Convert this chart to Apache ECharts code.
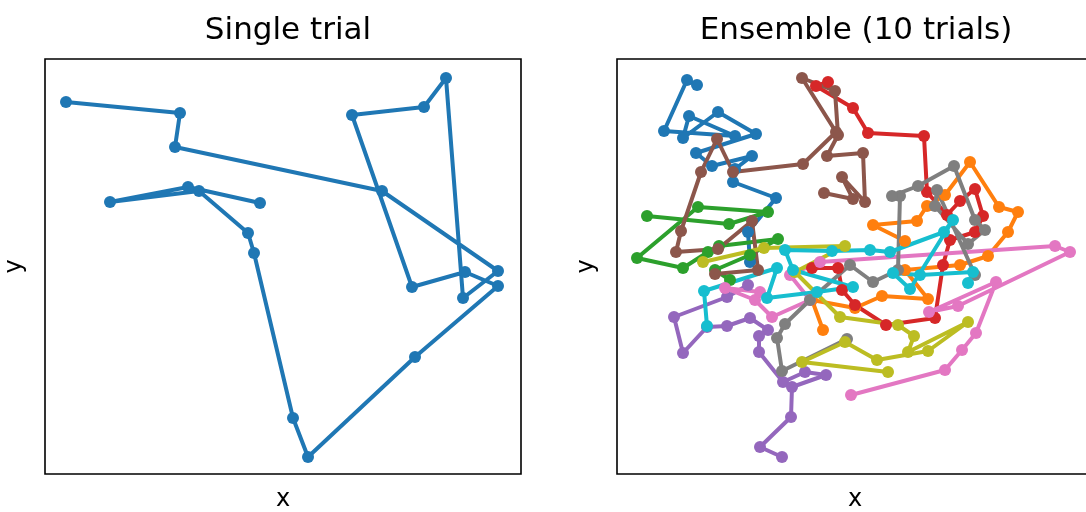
<!DOCTYPE html>
<html>
<head>
<meta charset="utf-8">
<script src="https://cdn.jsdelivr.net/npm/echarts@6/dist/echarts.min.js"></script>
<style>
  html, body { margin: 0; padding: 0; background: #fff; }
  #chart { width: 1086px; height: 512px; }
</style>
</head>
<body>
<div id="chart"></div>
<script>
// Random-walk positions [x, y] in plot units (x: 0..476, y: 0..415).
const singleWalk = [
  [21,372],[135,361],[130,327],[337,283],[453,203],[418,176],[401,396],
  [379,367],[307,359],[367,187],[420,202],[453,188],[370,117],[263,17],
  [248,56],[209,221],[203,241],[154,283],[65,272],[143,287],[215,271]
];

const walkBlue = [
  [80,389],[70,394],[47,343],[118,338],[72,358],[66,336],[101,362],[139,340],
  [79,321],[95,308],[135,318],[118,305],[116,292],[159,276],[131,242],[133,212]
];
const walkOrange = [
  [206,144],[195,174],[238,166],[265,178],[311,175],[288,204],[343,209],[371,218],
  [391,242],[401,262],[382,267],[353,312],[328,279],[310,268],[300,253],[256,249],[288,233]
];
const walkGreen = [
  [30,258],[112,250],[151,262],[81,267],[20,216],[66,206],[91,222],[102,228],
  [161,235],[133,219],[98,204],[113,194]
];
const walkRed = [
  [211,392],[199,388],[236,366],[251,341],[307,338],[310,282],[330,259],[343,273],
  [358,285],[366,258],[358,242],[333,234],[326,209],[318,156],[269,149],[238,169],
  [225,184],[221,206],[195,206]
];
const walkPurple = [
  [131,189],[110,177],[57,157],[66,121],[90,147],[110,148],[133,156],[151,144],
  [142,138],[142,122],[166,92],[188,102],[209,99],[175,87],[174,57],[143,27],[165,17]
];
const walkBrown = [
  [207,281],[236,275],[225,297],[248,272],[246,321],[210,318],[221,339],[218,383],
  [185,396],[219,342],[186,310],[116,302],[100,335],[84,302],[64,243],[59,222],
  [101,225],[135,253],[141,204],[98,200]
];
const walkPink = [
  [234,79],[328,104],[345,124],[359,141],[379,192],[312,162],[341,168],[453,222],
  [438,228],[203,212],[173,199],[193,174],[155,157],[138,174],[108,186],[143,182]
];
const walkGray = [
  [230,135],[165,103],[160,136],[168,150],[193,174],[233,209],[256,192],[281,204],
  [283,278],[275,278],[301,288],[337,308],[358,254],[368,244],[351,230],[318,268],
  [320,284],[358,199]
];
const walkOlive = [
  [86,212],[147,226],[228,228],[178,202],[223,157],[281,149],[297,138],[291,122],
  [351,152],[311,123],[260,114],[228,132],[185,112],[271,102]
];
const walkCyan = [
  [90,148],[87,183],[160,206],[150,176],[200,182],[236,187],[176,204],[168,224],
  [215,223],[253,224],[273,222],[327,242],[336,254],[293,185],[276,201],[303,199],
  [356,202],[351,191]
];

const ensembleWalks = [walkBlue, walkOrange, walkGreen, walkRed, walkPurple,
                       walkBrown, walkPink, walkGray, walkOlive, walkCyan];
const palette = ['#1f77b4','#ff7f0e','#2ca02c','#d62728','#9467bd',
                 '#8c564b','#e377c2','#7f7f7f','#bcbd22','#17becf'];

const FONT = 'DejaVu Sans';
const X_MAX = 476, Y_MAX = 415;

function axisPair(gridIndex) {
  const common = {
    type: 'value', gridIndex,
    axisLine: { show: false }, axisTick: { show: false },
    axisLabel: { show: false }, splitLine: { show: false },
    nameLocation: 'middle',
    nameTextStyle: { fontFamily: FONT, fontSize: 24, color: '#000' }
  };
  return {
    x: Object.assign({}, common, { min: 0, max: X_MAX, name: 'x', nameGap: 14 }),
    y: Object.assign({}, common, { min: 0, max: Y_MAX, name: 'y', nameGap: 18 })
  };
}
const a0 = axisPair(0), a1 = axisPair(1);

function walkSeries(data, color, idx) {
  return {
    type: 'line', xAxisIndex: idx, yAxisIndex: idx, data,
    symbol: 'circle', symbolSize: 12, showAllSymbol: true,
    lineStyle: { color, width: 4 },
    itemStyle: { color },
    emphasis: { disabled: true },
    animation: false
  };
}

const series = [walkSeries(singleWalk, palette[0], 0)];
ensembleWalks.forEach((w, i) => series.push(walkSeries(w, palette[i], 1)));

const gridBase = {
  top: 59, width: X_MAX, height: Y_MAX, show: true,
  containLabel: false, outerBoundsMode: 'none',
  borderColor: '#000', borderWidth: 1.6, backgroundColor: '#fff'
};

const chart = echarts.init(document.getElementById('chart'), null, { renderer: 'canvas' });
chart.setOption({
  animation: false,
  backgroundColor: '#fff',
  title: [
    { text: 'Single trial', left: 283, top: 10, textAlign: 'center',
      textStyle: { fontFamily: FONT, fontSize: 31, fontWeight: 'normal', color: '#000' } },
    { text: 'Ensemble (10 trials)', left: 851, top: 10, textAlign: 'center',
      textStyle: { fontFamily: FONT, fontSize: 31, fontWeight: 'normal', color: '#000' } }
  ],
  grid: [
    Object.assign({ left: 45 }, gridBase),
    Object.assign({ left: 617 }, gridBase)
  ],
  xAxis: [a0.x, a1.x],
  yAxis: [a0.y, a1.y],
  series
});
</script>
</body>
</html>
